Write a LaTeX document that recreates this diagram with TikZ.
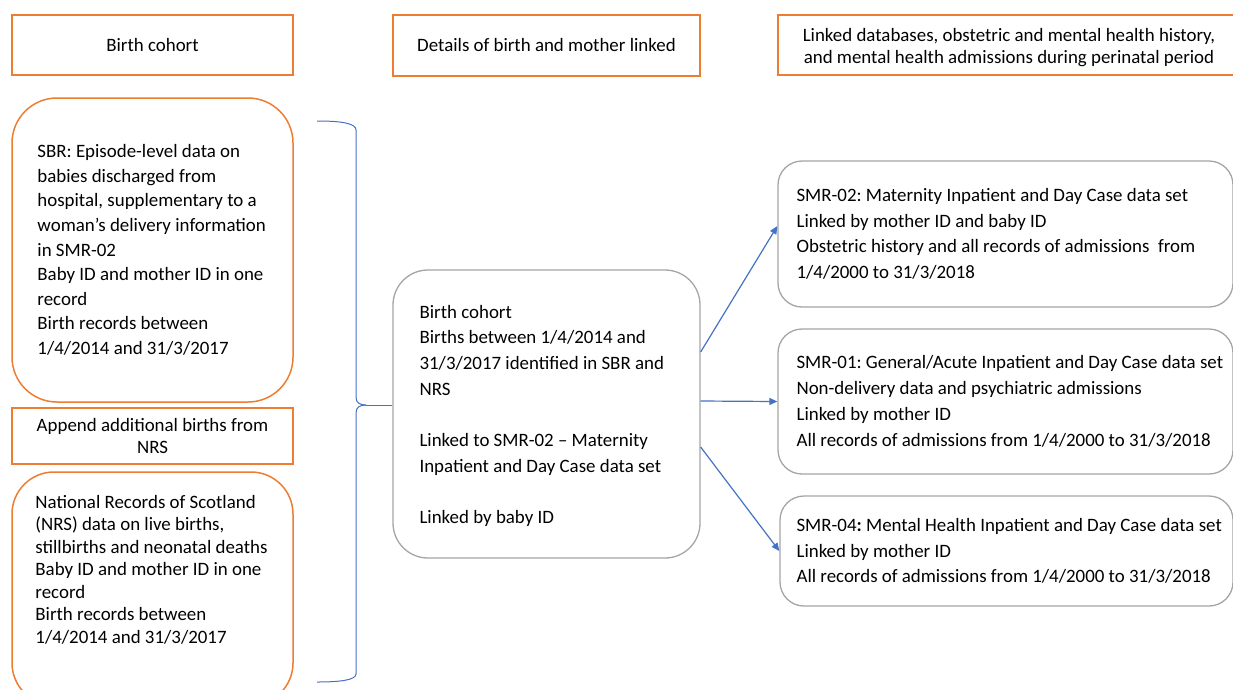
\documentclass[tikz,border=0pt]{standalone}
\usepackage{fontspec}
\setmainfont{Carlito}
\usetikzlibrary{arrows.meta}
\definecolor{orng}{HTML}{ED7D31}
\definecolor{gry}{HTML}{A5A5A5}
\definecolor{blu}{HTML}{4472C4}
\newcommand{\fsz}[1]{\fontsize{18.9}{#1}\selectfont\frenchspacing}
\begin{document}
\begin{tikzpicture}[x=1pt,y=-1pt,
  obox/.style={draw=orng, line width=1.5pt, inner sep=0pt, align=center, font=\fsz{22}},
  gbox/.style={draw=gry, line width=1.3pt, inner sep=0pt},
  txt/.style={align=left, inner sep=0pt, anchor=west},
  arr/.style={draw=blu, line width=1.2pt, -{Triangle[length=8pt,width=7pt]}},
  brace/.style={draw=blu, line width=1pt}]
\useasboundingbox (0,0) rectangle (1233,689);
% headers
\node[obox, minimum width=281pt, minimum height=60pt] (h1) at (152.5,45) {Birth cohort};
\node[obox, minimum width=307pt, minimum height=61pt] (h2) at (546.5,45.5) {Details of birth and mother linked};
\node[obox, minimum width=458pt, minimum height=60pt] (h3) at (1007,45) {};
\node[align=center, inner sep=0pt, font=\fsz{22}] (h3t) at ([xshift=2pt,yshift=-3pt]h3.center) {Linked databases, obstetric and mental health history,\\ and mental health admissions during perinatal period};
% left column
\node[obox, rounded corners=45pt, minimum width=281pt, minimum height=304pt] (sbr) at (152.5,250) {};
\node[txt, font=\fsz{24.6}] (sbrt) at ([xshift=26pt]sbr.west) {SBR: Episode-level data on\\ babies discharged from\\ hospital, supplementary to a\\ woman’s delivery information\\ in SMR-02\\ Baby ID and mother ID in one\\ record\\ Birth records between\\ 1/4/2014 and 31/3/2017};
\node[obox, minimum width=281pt, minimum height=56pt] (app) at (152.5,436) {Append additional births from\\ NRS};
\node[obox, rounded corners=42pt, minimum width=281pt, minimum height=233pt] (nrs) at (152.5,588.5) {};
\node[txt, font=\fsz{22.5}] (nrst) at ([xshift=24pt,yshift=19pt]nrs.west) {National Records of Scotland\\ (NRS) data on live births,\\ stillbirths and neonatal deaths\\ Baby ID and mother ID in one\\ record\\ Birth records between\\ 1/4/2014 and 31/3/2017};
% centre
\node[gbox, rounded corners=35pt, minimum width=307pt, minimum height=288pt] (cbox) at (546.5,414) {};
\node[txt, font=\fsz{25.7}] (cboxt) at ([xshift=27pt,yshift=-2pt]cbox.west) {Birth cohort\\ Births between 1/4/2014 and\\ 31/3/2017 identified in SBR and\\ NRS\\[25.7pt] Linked to SMR-02 -- Maternity\\ Inpatient and Day Case data set\\[25.7pt] Linked by baby ID};
% right column
\node[gbox, rounded corners=24pt, minimum width=455pt, minimum height=146pt] (s02) at (1005.5,234) {};
\node[txt, font=\fsz{25.5}] (s02t) at ([xshift=19pt]s02.west) {SMR-02: Maternity Inpatient and Day Case data set\\ Linked by mother ID and baby ID\\ Obstetric history and all records of admissions\ \ from\\ 1/4/2000 to 31/3/2018};
\node[gbox, rounded corners=24pt, minimum width=455pt, minimum height=145pt] (s01) at (1005.5,401.5) {};
\node[txt, font=\fsz{26}] (s01t) at ([xshift=19pt]s01.west) {SMR-01: General/Acute Inpatient and Day Case data set\\ Non-delivery data and psychiatric admissions\\ Linked by mother ID\\ All records of admissions from 1/4/2000 to 31/3/2018};
\node[gbox, rounded corners=24pt, minimum width=453pt, minimum height=110pt] (s04) at (1006.5,551) {};
\node[txt, font=\fsz{25.5}] (s04t) at ([xshift=17pt]s04.west) {SMR-04\textbf{:} Mental Health Inpatient and Day Case data set\\ Linked by mother ID\\ All records of admissions from 1/4/2000 to 31/3/2018};
% brace
\draw[brace] (317,121) .. controls (340,121) and (356,123) .. (356,130) -- (356,397) .. controls (356,403) and (360,405) .. (366,405) coordinate (brtip);
\draw[brace] (brtip) .. controls (360,405) and (356,407) .. (356,413) -- (356,674) .. controls (356,680) and (340,682) .. (317,682);
\draw[brace] (brtip) -- (brtip -| cbox.west);
% arrows
\draw[arr] ([yshift=62pt]cbox.east) -- ([yshift=8pt]s02.west);
\draw[arr] ([yshift=13pt]cbox.east) -- (s01.west);
\draw[arr] ([yshift=-33pt]cbox.east) -- (s04.west);
\end{tikzpicture}
\end{document}
